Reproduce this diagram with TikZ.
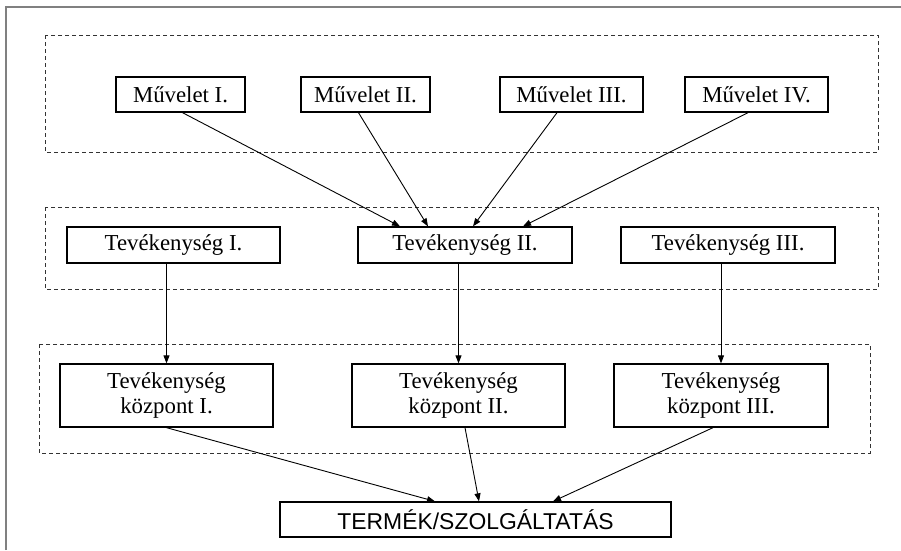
\documentclass[tikz,border=0pt]{standalone}
\usepackage{fontspec}
\setmainfont{Liberation Serif}
\newfontfamily\arialfont{Liberation Sans}
\usetikzlibrary{arrows.meta,calc}
\tikzset{
  box/.style={draw=black, line width=1.3pt, fill=white, inner sep=0pt,
    font=\fontsize{22.8}{25}\selectfont, align=center},
  group/.style={draw=black!80, line width=0.9pt, dash pattern=on 4pt off 3pt},
  arr/.style={draw=black, line width=0.9pt, -{Triangle[length=8pt,width=6pt]}},
  frame/.style={draw=black!50, line width=2pt}
}
\begin{document}
\begin{tikzpicture}[x=1pt,y=-1pt]
  \useasboundingbox (0,0) rectangle (901,550);
  \fill[white] (0,0) rectangle (901,550);
  % outer frame (top and left edges)
  \draw[frame] (6,550) -- (6,7) -- (901,7);

  % dashed group frames
  \draw[group] (45,35) rectangle (878,152);
  \draw[group] (45,207) rectangle (878,289);
  \draw[group] (39,344) rectangle (870,453);

  % operations
  \node[box, minimum width=129pt, minimum height=35pt] (m1) at (180.5,94.5) {Művelet I.};
  \node[box, minimum width=129pt, minimum height=35pt] (m2) at (365.5,94.5) {Művelet II.};
  \node[box, minimum width=143pt, minimum height=35pt] (m3) at (571.5,94.5) {Művelet III.};
  \node[box, minimum width=143pt, minimum height=35pt] (m4) at (756.5,94.5) {Művelet IV.};

  % activities
  \node[box, minimum width=213pt, minimum height=36pt] (t1) at (173.5,245) {Tevékenység I.};
  \node[box, minimum width=214pt, minimum height=36pt] (t2) at (465,245) {Tevékenység II.};
  \node[box, minimum width=214pt, minimum height=36pt] (t3) at (728,245) {Tevékenység III.};

  % activity centres
  \node[box, minimum width=213pt, minimum height=63pt] (k1) at (166.5,395.5) {Tevékenység\\központ I.};
  \node[box, minimum width=213pt, minimum height=63pt] (k2) at (458.5,395.5) {Tevékenység\\központ II.};
  \node[box, minimum width=214pt, minimum height=63pt] (k3) at (721,395.5) {Tevékenység\\központ III.};

  % product / service
  \node[box, font=\arialfont\fontsize{22.9}{25}\selectfont, minimum width=391pt, minimum height=35pt] (p) at (475.5,519.5) {TERMÉK/SZOLGÁLTATÁS};

  % operations -> activity II
  \draw[arr] ([xshift=2pt]m1.south) -- ([xshift=-65pt]t2.north);
  \draw[arr] ([xshift=-7pt]m2.south) -- ([xshift=-37pt]t2.north);
  \draw[arr] ([xshift=-14.5pt]m3.south) -- ([xshift=8pt]t2.north);
  \draw[arr] ([xshift=-8.5pt]m4.south) -- ([xshift=58pt]t2.north);

  % activities -> centres
  \draw[arr] (t1.south -| k1.north) -- (k1.north);
  \draw[arr] (t2.south -| k2.north) -- (k2.north);
  \draw[arr] (t3.south -| k3.north) -- (k3.north);

  % centres -> product
  \draw[arr] (k1.south) -- ([xshift=-40.5pt]p.north);
  \draw[arr] ([xshift=6.5pt]k2.south) -- ([xshift=3.5pt]p.north);
  \draw[arr] ([xshift=-8pt]k3.south) -- ([xshift=77.5pt]p.north);
\end{tikzpicture}
\end{document}
